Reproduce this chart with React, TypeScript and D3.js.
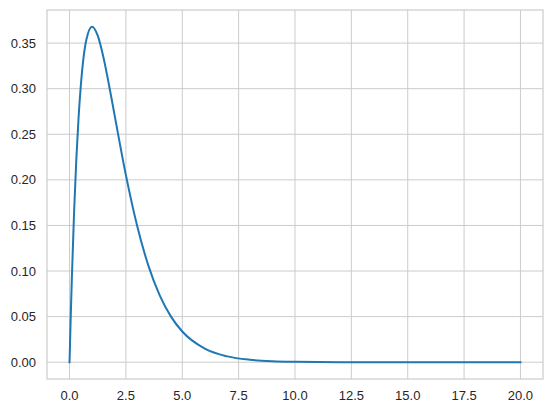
import React from "react";
import * as d3 from "d3";

const xValues = [0, 0.05, 0.1, 0.2, 0.3, 0.4, 0.5, 0.75, 1, 1.25, 1.5, 1.75, 2, 2.5, 3, 3.5, 4, 4.5, 5, 6, 7, 8, 9, 10, 12, 15, 20];
const yValues = [0, 0.0476, 0.0905, 0.1637, 0.2222, 0.2681, 0.3033, 0.3543, 0.3679, 0.3581, 0.3347, 0.3041, 0.2707, 0.2052, 0.1494, 0.1057, 0.0733, 0.05, 0.0337, 0.0149, 0.0064, 0.0027, 0.0011, 0.0005, 0.0001, 0.0, 0.0];
const xTicks = [0, 2.5, 5, 7.5, 10, 12.5, 15, 17.5, 20];
const yTicks = [0, 0.05, 0.1, 0.15, 0.2, 0.25, 0.3, 0.35];

export default function App() {
  const W = 552, H = 413;
  const left = 47, top = 10, right = 543, bottom = 379;
  const x = d3.scaleLinear().domain([-1, 21]).range([left, right]);
  const yMax = 0.3679;
  const y = d3.scaleLinear().domain([-yMax * 0.05, yMax * 1.05]).range([bottom, top]);
  const pts = xValues.map((v, i) => [v, yValues[i]] as [number, number]);
  const line = d3.line<[number, number]>().x(d => x(d[0])).y(d => y(d[1])).curve(d3.curveMonotoneX);
  const font = "'Liberation Sans', Arial, sans-serif";
  return (
    <svg width={W} height={H} style={{ position: "absolute", left: 0, top: 0 }}>
      <rect x={0} y={0} width={W} height={H} fill="#fff" />
      {xTicks.map(t => (
        <line key={"gx" + t} x1={x(t)} x2={x(t)} y1={top} y2={bottom} stroke="#cccccc" strokeWidth={1} />
      ))}
      {yTicks.map(t => (
        <line key={"gy" + t} x1={left} x2={right} y1={y(t)} y2={y(t)} stroke="#cccccc" strokeWidth={1} />
      ))}
      <rect x={left} y={top} width={right - left} height={bottom - top} fill="none" stroke="#cccccc" strokeWidth={1.2} />
      <path d={line(pts) || ""} fill="none" stroke="#1f77b4" strokeWidth={2} strokeLinejoin="round" strokeLinecap="square" />
      {xTicks.map(t => (
        <text key={"tx" + t} x={x(t)} y={400} textAnchor="middle" fontFamily={font} fontSize={13} fill="#262626">
          {t.toFixed(1)}
        </text>
      ))}
      {yTicks.map(t => (
        <text key={"ty" + t} x={36} y={y(t)} dy="0.35em" textAnchor="end" fontFamily={font} fontSize={13} fill="#262626">
          {t.toFixed(2)}
        </text>
      ))}
    </svg>
  );
}
